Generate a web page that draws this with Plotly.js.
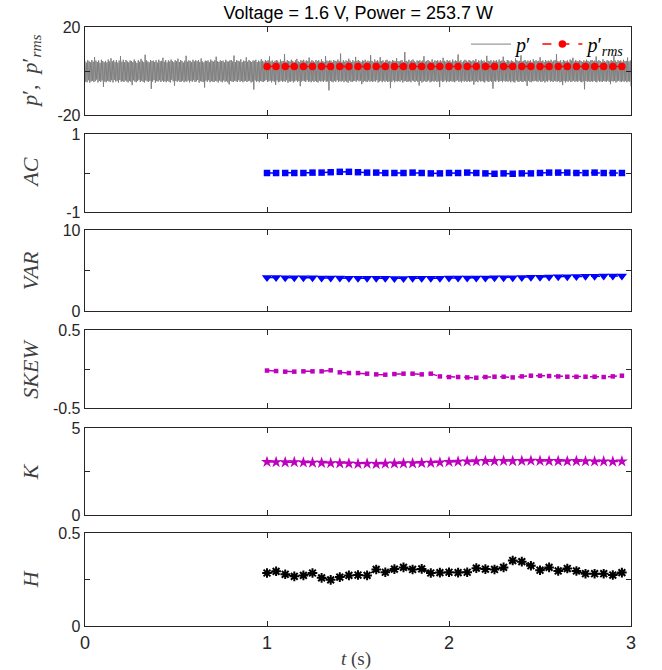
<!DOCTYPE html>
<html><head><meta charset="utf-8">
<script src="https://cdn.plot.ly/plotly-3.0.1.min.js"></script>
<style>html,body{margin:0;padding:0;background:#fff}</style>
</head><body><div id="chart" style="width:662px;height:670px"></div>
<script>
// ---------- data ----------
const pPrime = [
4.6,-4.9,3.8,-5.1,4.9,-4.2,4.4,-5.3,3.9,-4.7,5.0,-4.4,4.2,-5.0,6.3,-4.6,4.7,-3.9,4.1,-5.2,
4.8,-4.5,3.7,-4.9,5.1,-4.3,4.5,-7.2,4.0,-4.8,4.6,-5.1,3.9,-4.4,5.2,-4.7,4.3,-5.0,5.8,-4.2,
4.4,-5.2,4.9,-4.0,4.1,-4.8,5.0,-4.5,3.8,-5.3,4.7,-4.1,6.8,-4.9,4.2,-4.6,5.1,-5.0,4.0,-4.3,
5.0,-4.7,4.3,-5.2,3.9,-4.5,4.8,-4.9,4.5,-6.4,4.1,-4.2,5.2,-4.8,4.4,-5.1,3.7,-4.6,4.9,-4.0,
4.2,-5.0,5.5,-4.4,4.6,-4.9,4.0,-5.2,7.4,-4.3,4.8,-4.7,4.3,-5.0,3.9,-4.5,5.0,-8.1,4.5,-4.8,
4.7,-4.1,4.1,-5.3,4.9,-4.6,3.8,-4.8,5.1,-4.2,4.4,-5.0,4.6,-4.4,6.0,-4.9,4.2,-4.7,5.0,-5.1,
3.9,-4.5,4.8,-4.9,4.3,-5.2,5.2,-4.0,4.5,-4.7,4.0,-6.7,4.9,-4.5,4.4,-4.9,5.6,-4.3,4.1,-5.0,
5.0,-4.8,4.5,-4.4,3.8,-5.1,4.7,-4.6,6.9,-4.9,4.2,-4.3,4.8,-5.2,4.6,-4.5,4.0,-4.9,5.1,-4.2,
4.3,-5.0,4.9,-4.7,4.4,-4.1,5.0,-5.3,4.1,-4.6,5.7,-4.8,4.3,-5.0,3.9,-7.5,4.7,-4.4,4.5,-4.9,
4.8,-4.2,4.0,-5.1,5.2,-4.6,4.6,-4.8,4.2,-5.0,4.9,-4.4,6.5,-4.7,4.4,-5.2,4.1,-4.3,4.8,-4.8,
4.5,-5.1,4.7,-4.3,3.9,-4.9,5.1,-4.6,4.4,-5.2,4.2,-6.1,4.8,-4.5,5.0,-4.8,4.3,-5.0,7.0,-4.4,
4.1,-4.7,4.9,-5.0,4.6,-4.2,4.3,-4.9,5.3,-4.5,4.0,-5.1,4.7,-4.7,4.5,-4.4,6.2,-5.0,4.2,-4.6,
5.0,-4.4,4.4,-5.2,4.1,-4.8,4.8,-8.4,4.6,-4.3,5.1,-4.9,4.0,-4.6,4.7,-5.1,4.3,-4.5,5.4,-4.8,
4.6,-5.0,4.2,-4.6,5.0,-4.1,4.5,-5.0,4.9,-4.7,6.6,-4.4,4.3,-5.2,4.8,-4.5,4.1,-4.9,4.6,-6.3,
4.9,-4.3,4.7,-5.1,4.0,-4.8,5.2,-4.4,4.4,-5.0,4.6,-4.6,7.7,-4.9,4.2,-4.2,4.9,-5.3,4.5,-4.7,
4.3,-4.9,5.1,-4.5,4.6,-5.2,4.1,-4.7,4.8,-4.3,5.5,-5.0,4.4,-4.6,4.0,-6.9,4.9,-4.8,4.6,-4.4,
5.1,-4.6,4.3,-5.0,4.8,-4.2,4.5,-4.9,6.1,-4.7,4.2,-5.1,4.9,-4.4,4.6,-5.0,4.0,-4.5,5.0,-4.9,
4.4,-5.2,4.9,-4.4,4.2,-4.8,5.3,-4.6,4.5,-5.0,4.1,-4.3,6.8,-4.9,4.7,-4.7,4.4,-8.8,4.8,-4.5,
4.7,-4.8,4.0,-5.1,5.0,-4.5,4.6,-4.9,4.3,-4.2,5.2,-5.0,4.5,-4.6,7.9,-4.8,4.1,-4.4,4.9,-5.1,
4.2,-4.5,4.8,-4.9,4.4,-5.3,5.6,-4.3,4.7,-4.8,4.0,-5.0,4.9,-4.6,4.3,-4.5,6.4,-4.9,4.6,-4.2,
5.0,-4.7,4.5,-4.4,4.1,-6.0,4.8,-5.1,4.6,-4.5,5.1,-4.8,4.2,-5.0,4.7,-4.3,4.4,-4.9,7.2,-4.6,
4.6,-5.0,4.0,-4.6,5.2,-4.8,4.4,-4.2,4.9,-5.2,4.3,-4.7,6.3,-4.5,4.5,-5.1,4.8,-4.4,4.1,-4.9,
4.8,-4.4,5.1,-5.0,4.3,-4.7,4.6,-7.8,4.2,-4.9,5.0,-4.3,4.7,-5.1,4.4,-4.6,5.8,-4.8,4.5,-4.5,
4.3,-4.9,4.7,-4.2,4.9,-5.2,4.1,-4.7,8.6,-4.4,4.6,-5.0,4.2,-4.8,5.1,-4.6,4.4,-5.1,4.8,-4.3,
5.2,-4.6,4.4,-5.0,4.0,-4.4,4.8,-4.9,4.5,-6.6,4.9,-4.5,4.3,-5.2,4.7,-4.8,6.7,-4.4,4.2,-5.0,
4.6,-4.7,5.0,-4.3,4.4,-5.1,4.2,-4.8,5.3,-4.6,4.1,-4.9,4.8,-4.4,4.5,-5.0,4.9,-4.7,4.3,-7.3,
4.9,-4.4,4.3,-4.9,6.0,-4.8,4.6,-4.3,4.2,-5.1,5.0,-4.6,4.4,-5.0,4.8,-4.5,4.1,-4.8,5.2,-4.7,
4.4,-5.1,4.8,-4.6,4.5,-4.2,7.5,-4.9,4.3,-4.7,4.9,-5.2,4.0,-4.5,4.6,-4.8,5.1,-4.4,4.7,-5.0,
4.2,-4.5,5.0,-5.0,4.6,-4.7,4.3,-4.4,4.9,-6.2,4.5,-4.9,5.4,-4.6,4.1,-5.1,4.8,-4.3,4.4,-4.8,
5.1,-4.6,4.4,-4.8,4.7,-5.2,4.0,-4.4,6.9,-4.7,4.6,-5.0,4.3,-4.5,4.9,-4.9,4.2,-8.0,4.8,-4.6,
4.5,-4.9,4.9,-4.3,4.2,-5.0,5.2,-4.7,4.4,-4.5,4.8,-5.1,6.5,-4.4,4.6,-4.8,4.1,-4.6,5.0,-4.9,
4.7,-4.4,4.3,-5.1,4.8,-4.6,4.5,-4.9,4.1,-5.2,5.7,-4.3,4.9,-4.7,4.4,-5.0,4.6,-4.5,7.1,-4.8,
4.3,-5.0,4.6,-4.5,5.0,-4.8,4.2,-6.8,4.7,-4.4,4.5,-4.9,4.9,-5.1,4.0,-4.6,5.3,-4.7,4.4,-4.4,
4.9,-4.7,4.4,-4.9,4.6,-4.3,6.2,-5.0,4.3,-4.8,4.8,-4.5,4.1,-5.2,5.0,-4.6,4.5,-4.9,4.7,-4.2,
4.4,-4.8,5.1,-4.6,4.2,-5.0,4.7,-4.4,4.9,-4.7,7.6,-4.9,4.5,-4.5,4.3,-5.1,4.8,-4.8,4.0,-6.4,
5.0,-4.5,4.6,-5.2,4.4,-4.6,4.8,-4.9,4.2,-4.3,5.2,-5.0,4.7,-4.7,6.0,-4.4,4.3,-4.9,4.9,-4.6,
4.6,-5.0,4.3,-4.4,4.9,-4.8,4.5,-5.1,4.1,-4.7,4.8,-8.3,4.4,-4.5,5.1,-4.9,4.6,-4.6,4.2,-5.0,
4.8,-4.6,5.0,-4.9,4.4,-4.5,4.7,-4.8,6.6,-5.1,4.3,-4.4,4.9,-4.9,4.5,-4.7,4.0,-5.0,5.3,-4.5,
4.5,-4.7,4.2,-5.0,4.9,-4.4,4.6,-4.9,4.3,-6.0,5.0,-4.6,4.4,-4.8,7.3,-4.5,4.7,-5.2,4.1,-4.7,
4.9,-4.4,4.5,-4.8,4.8,-5.0,4.2,-4.6,5.1,-4.9,4.4,-4.5,4.6,-5.1,6.1,-4.7,4.3,-4.8,4.8,-7.0
];
const pStart = 0, pEnd = 3;   // p' record spans 0..3 s, uniformly sampled

const tFeat = [1.00,1.05,1.10,1.15,1.20,1.25,1.30,1.35,1.40,1.45,
               1.50,1.55,1.60,1.65,1.70,1.75,1.80,1.85,1.90,1.95,
               2.00,2.05,2.10,2.15,2.20,2.25,2.30,2.35,2.40,2.45,
               2.50,2.55,2.60,2.65,2.70,2.75,2.80,2.85,2.90,2.95];
const pRms = [2.1,2.1,2.1,2.0,2.1,2.1,2.1,2.1,2.1,2.1,
              2.1,2.1,2.1,2.1,2.1,2.1,2.1,2.1,2.1,2.1,
              2.1,2.1,2.1,2.1,2.1,2.1,2.1,2.1,2.1,2.1,
              2.1,2.1,2.1,2.1,2.1,2.1,2.1,2.1,2.1,2.1];
const AC = [0.00,0.00,0.00,0.00,0.00,0.01,0.01,0.02,0.03,0.03,
            0.02,0.01,0.01,0.00,0.00,0.00,0.01,0.00,-0.01,-0.01,
            0.00,0.00,0.01,0.00,-0.01,-0.02,-0.01,-0.02,-0.01,-0.01,
            0.00,0.01,0.01,0.01,0.00,0.00,0.01,0.00,0.00,0.00];
const VAR = [4.15,4.13,4.12,4.12,4.10,4.10,4.08,4.08,4.06,4.05,
             4.05,4.04,4.03,4.03,4.02,4.02,4.03,4.03,4.04,4.05,
             4.06,4.07,4.07,4.08,4.08,4.10,4.11,4.12,4.14,4.16,
             4.18,4.20,4.22,4.24,4.26,4.28,4.30,4.31,4.32,4.32];
const SKEW = [-0.020,-0.026,-0.034,-0.034,-0.030,-0.030,-0.030,-0.017,-0.043,-0.052,
              -0.052,-0.060,-0.069,-0.073,-0.065,-0.060,-0.060,-0.069,-0.060,-0.095,
              -0.103,-0.103,-0.108,-0.112,-0.103,-0.099,-0.099,-0.108,-0.095,-0.086,
              -0.086,-0.090,-0.095,-0.099,-0.099,-0.099,-0.099,-0.103,-0.095,-0.086];
const K = [3.05,3.04,3.03,3.04,3.02,3.01,3.00,2.98,2.97,2.96,
           2.94,2.95,2.93,2.95,2.96,2.97,2.97,2.99,3.00,3.02,
           3.05,3.07,3.08,3.09,3.10,3.10,3.11,3.10,3.11,3.12,
           3.11,3.10,3.10,3.09,3.10,3.09,3.08,3.08,3.07,3.08];
const H = [0.285,0.294,0.278,0.267,0.272,0.285,0.259,0.248,0.263,0.272,
           0.274,0.272,0.304,0.289,0.306,0.315,0.304,0.307,0.285,0.287,
           0.289,0.287,0.289,0.311,0.306,0.304,0.315,0.352,0.346,0.324,
           0.300,0.315,0.296,0.309,0.296,0.281,0.281,0.281,0.274,0.287];

const titleText = 'Voltage = 1.6 V, Power = 253.7 W';
const yLabels = ['<i>p</i>′,  <i>p</i>′<sub><i>rms</i></sub>','<i>AC</i>','<i>VAR</i>','<i>SKEW</i>','<i>K</i>','<i>H</i>'];
const yRanges = [[-20,20],[-1,1],[0,10],[-0.5,0.5],[0,5],[0,0.5]];
const yTickVals = [[-20,0,20],[-1,0,1],[0,5,10],[-0.5,0,0.5],[0,2.5,5],[0,0.25,0.5]];
const yTickText = [['-20','','20'],['-1','','1'],['0','','10'],['-0.5','','0.5'],['0','','5'],['0','','0.5']];
const xTickVals = [0,1,2,3];
const xTickText = ['0','1','2','3'];
const legendNames = ['<i>p</i>′','<i>p</i>′<sub><i>rms</i></sub>'];

// ---------- layout geometry (pixels) ----------
const W = 662, Hpx = 670;
const L = 85.3, R = 631.3, T = 27, B = 626;
const panelTop = [27, 134, 230, 330, 428, 533];
const panelBot = [115, 212, 311, 408, 515, 626];
const ph = B - T;
const dom = panelTop.map((t,i)=>[(B-panelBot[i])/ph, (B-t)/ph]);

const tP = pPrime.map((_,i)=> pStart + (pEnd-pStart)*i/(pPrime.length-1));

const axCol = '#262626';
const tickFont = {family:'Liberation Sans, Arial, sans-serif', size:16, color:axCol};
const xTickFont = {family:'Liberation Sans, Arial, sans-serif', size:18, color:axCol};
const serif = 'Liberation Serif, Times New Roman, serif';

const traces = [
  {x:tP, y:pPrime, type:'scatter', mode:'lines', name:legendNames[0],
   line:{color:'#808080', width:1}, xaxis:'x', yaxis:'y'},
  {x:tFeat, y:pRms, type:'scatter', mode:'lines+markers', name:legendNames[1],
   line:{color:'#ff0000', width:1.5, dash:'dash'}, marker:{symbol:'circle', size:7.5, color:'#ff0000'},
   xaxis:'x', yaxis:'y'},
  {x:tFeat, y:AC, type:'scatter', mode:'lines+markers', showlegend:false,
   line:{color:'#0000ff', width:1.5, dash:'dash'}, marker:{symbol:'square', size:6.5, color:'#0000ff'},
   xaxis:'x2', yaxis:'y2'},
  {x:tFeat, y:VAR, type:'scatter', mode:'lines+markers', showlegend:false,
   line:{color:'#0000ff', width:1.5, dash:'dash'}, marker:{symbol:'triangle-down', size:9, color:'#0000ff'},
   xaxis:'x3', yaxis:'y3'},
  {x:tFeat, y:SKEW, type:'scatter', mode:'lines+markers', showlegend:false,
   line:{color:'#bf00bf', width:1.5, dash:'dash'}, marker:{symbol:'square', size:4.5, color:'#bf00bf'},
   xaxis:'x4', yaxis:'y4'},
  {x:tFeat, y:K, type:'scatter', mode:'lines+markers', showlegend:false,
   line:{color:'#bf00bf', width:1.5, dash:'dash'}, marker:{symbol:'star', size:9, color:'#bf00bf'},
   xaxis:'x5', yaxis:'y5'},
  {x:tFeat, y:H, type:'scatter', mode:'lines+markers', showlegend:false,
   line:{color:'#000000', width:1.5, dash:'dash'}, marker:{symbol:'asterisk-open', size:8, color:'#000000', line:{color:'#000000', width:2}},
   xaxis:'x6', yaxis:'y6'}
];

const layout = {
  width:W, height:Hpx, paper_bgcolor:'#fff', plot_bgcolor:'#fff',
  margin:{l:L, r:W-R, t:T, b:Hpx-B, pad:0, autoexpand:false},
  showlegend:true,
  legend:{x:1, xanchor:'right', y:1.004, yanchor:'top', orientation:'h',
          bgcolor:'rgba(0,0,0,0)', borderwidth:0, itemwidth:40,
          font:{family:serif, size:20, color:'#000'}},
  title:{text:titleText, x:(L+R)/2/W, xanchor:'center', xref:'container',
         y:1-13/Hpx, yref:'container', yanchor:'middle',
         font:{family:'Liberation Sans, Arial, sans-serif', size:18, color:'#000'}},
  annotations:[],
  hovermode:false
};

for (let i=0;i<6;i++){
  const s = i===0 ? '' : String(i+1);
  layout['xaxis'+s] = {
    domain:[0,1], range:[0,3], anchor:'y'+s, matches: i===0? undefined : 'x',
    tickvals:xTickVals, ticktext:xTickText, showticklabels: i===5,
    ticks:'inside', ticklen:5, tickwidth:1, tickcolor:axCol, mirror:'ticks',
    showline:true, linecolor:axCol, linewidth:1.3, showgrid:false, zeroline:false,
    tickfont:xTickFont, automargin:false
  };
  layout['yaxis'+s] = {
    domain:dom[i], range:yRanges[i], anchor:'x'+s,
    tickvals:yTickVals[i], ticktext:yTickText[i],
    ticks:'inside', ticklen:5, tickwidth:1, tickcolor:axCol, mirror:'ticks',
    showline:true, linecolor:axCol, linewidth:1.3, showgrid:false, zeroline:false,
    tickfont:tickFont, automargin:false
  };
  layout.annotations.push({
    text:yLabels[i], textangle:-90, xref:'paper', yref:'paper',
    x:(31-L)/(R-L), y:(dom[i][0]+dom[i][1])/2, xanchor:'center', yanchor:'middle',
    showarrow:false, font:{family:serif, size:22, color:'#404040'}
  });
}
layout.annotations.push({
  text:'<i>t</i> (s)', xref:'paper', yref:'paper',
  x:(356-L)/(R-L), y:-(659-B)/ph, xanchor:'center', yanchor:'middle',
  showarrow:false, font:{family:serif, size:19, color:'#404040'}
});

Plotly.newPlot('chart', traces, layout, {displayModeBar:false, staticPlot:true});
</script></body></html>
